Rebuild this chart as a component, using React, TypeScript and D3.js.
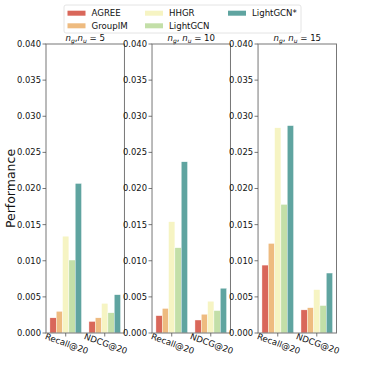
import * as React from 'react';
import * as d3 from 'd3';

const methods = ['AGREE', 'GroupIM', 'HHGR', 'LightGCN', 'LightGCN*'];
const colors = ['#d9675a', '#eebb80', '#f6f4c3', '#c3dfa8', '#5fa4a0'];
const metrics = ['Recall@20', 'NDCG@20'];
const sizes = ['5', '10', '15'];
const yTicks = [0, 0.005, 0.01, 0.015, 0.02, 0.025, 0.03, 0.035, 0.04];

// values per method, for each panel
const recall5 = [0.0021, 0.0030, 0.0134, 0.0101, 0.0207];
const ndcg5 = [0.0016, 0.0021, 0.0041, 0.0028, 0.0053];
const recall10 = [0.0024, 0.0034, 0.0154, 0.0118, 0.0237];
const ndcg10 = [0.0018, 0.0026, 0.0044, 0.0031, 0.0062];
const recall15 = [0.0094, 0.0124, 0.0284, 0.0178, 0.0287];
const ndcg15 = [0.0032, 0.0035, 0.0060, 0.0038, 0.0083];

const panelData = [
  [recall5, ndcg5],
  [recall10, ndcg10],
  [recall15, ndcg15],
];

const font = 'DejaVu Sans, sans-serif';

const App = () => {
  const top = 44;
  const bottom = 333;

  const px = d3.scaleBand().domain(sizes).range([46, 336.5]).paddingInner(0.26).paddingOuter(0);
  const y = d3.scaleLinear().domain([0, 0.04]).range([bottom, top]);
  const gx = d3.scaleBand().domain(metrics).range([0, px.bandwidth()]).paddingInner(0.19).paddingOuter(0.1);
  const bx = d3.scaleBand().domain(methods).range([0, gx.bandwidth()]);

  return (
    <svg width={374} height={374} style={{ position: 'absolute', left: 0, top: 0 }} fontFamily={font}>
      <rect width={374} height={374} fill="#fff" />
      {sizes.map((s, pi) => {
        const x0 = px(s)!;
        const w = px.bandwidth();
        return (
          <g key={s} transform={`translate(${x0},0)`}>
            {metrics.map((m, mi) => (
              <g key={m} transform={`translate(${gx(m)},0)`}>
                {methods.map((meth, k) => {
                  const v = panelData[pi][mi][k];
                  return (
                    <rect key={meth} x={bx(meth)} y={y(v)} width={bx.bandwidth()} height={bottom - y(v)}
                      fill={colors[k]} stroke="#fff" strokeWidth={0.4} />
                  );
                })}
              </g>
            ))}
            <rect x={0} y={top} width={w} height={bottom - top} fill="none" stroke="#777" strokeWidth={1} />
            {yTicks.map(t => (
              <g key={t}>
                <line x1={-3.5} x2={0} y1={y(t)} y2={y(t)} stroke="#555" strokeWidth={0.8} />
                <text x={-5} y={y(t)} dy="0.35em" textAnchor="end" fontSize={8.4} fill="#111">{t.toFixed(3)}</text>
              </g>
            ))}
            {metrics.map(m => {
              const cx = gx(m)! + gx.bandwidth() / 2;
              return (
                <g key={m}>
                  <line x1={cx} x2={cx} y1={bottom} y2={bottom + 3.5} stroke="#555" strokeWidth={0.8} />
                  <text transform={`translate(${cx},${bottom + 13.5}) rotate(20)`} textAnchor="middle" fontSize={8.6} fill="#111">{m}</text>
                </g>
              );
            })}
            <text x={w / 2} y={41} textAnchor="middle" fontSize={8.6} fill="#111">
              <tspan fontStyle="italic">n</tspan>
              <tspan fontSize={6} fontStyle="italic" dy={2}>g</tspan>
              <tspan dy={-2}>{pi === 0 ? ',' : ', '}</tspan>
              <tspan fontStyle="italic">n</tspan>
              <tspan fontSize={6} fontStyle="italic" dy={2}>u</tspan>
              <tspan dy={-2}>{` = ${s}`}</tspan>
            </text>
          </g>
        );
      })}
      <text transform={`translate(15,${(top + bottom) / 2}) rotate(-90)`} textAnchor="middle" fontSize={12.5} fill="#111">Performance</text>
      <g>
        <rect x={64} y={5} width={237} height={28} rx={2} fill="#fff" stroke="#ddd" strokeWidth={0.8} />
        {methods.map((meth, k) => {
          const col = Math.floor(k / 2);
          const row = k % 2;
          const lx = [67.5, 145, 228][col];
          const ly = 10.7 + row * 12.6;
          return (
            <g key={meth}>
              <rect x={lx} y={ly} width={18} height={5} fill={colors[k]} />
              <text x={lx + 24} y={ly + 5.2} fontSize={8.6} fill="#111">{meth}</text>
            </g>
          );
        })}
      </g>
    </svg>
  );
};

export default App;
